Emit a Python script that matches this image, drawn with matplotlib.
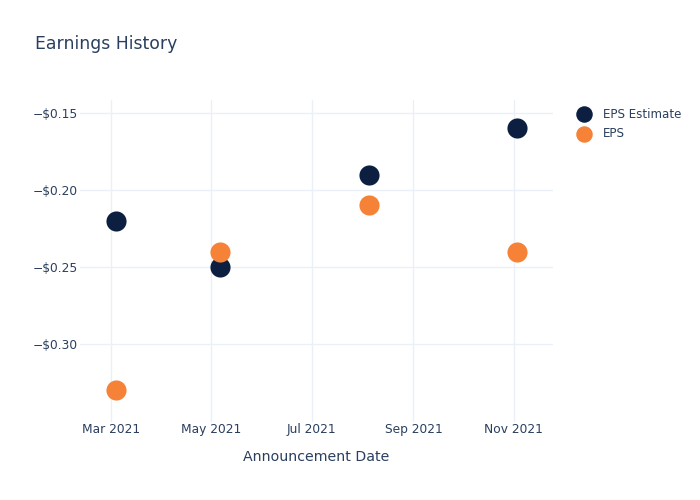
import pandas as pd
import matplotlib
matplotlib.use("Agg")
import matplotlib.pyplot as plt
import matplotlib.dates as mdates
from matplotlib.ticker import FuncFormatter

# data
dates = ["2021-03-04", "2021-05-06", "2021-08-05", "2021-11-03"]
eps_estimate = [-0.22, -0.25, -0.19, -0.16]
eps_actual = [-0.33, -0.24, -0.21, -0.24]

tick_dates = ["2021-03-01", "2021-05-01", "2021-07-01", "2021-09-01", "2021-11-01"]
y_ticks = [-0.30, -0.25, -0.20, -0.15]

text_color = "#2a3f5f"
grid_color = "#ebf0f8"
estimate_color = "#0d1f40"
eps_color = "#f58236"

x = pd.to_datetime(dates)

fig = plt.figure(figsize=(7, 5), dpi=100)
ax = fig.add_axes([80 / 700, 78 / 500, 473 / 700, 322 / 500])

ax.scatter(x, eps_estimate, s=210, color=estimate_color, label="EPS Estimate", zorder=3, linewidths=0)
ax.scatter(x, eps_actual, s=210, color=eps_color, label="EPS", zorder=3, linewidths=0)

ax.set_xlim(pd.Timestamp("2021-02-10"), pd.Timestamp("2021-11-25"))
ax.set_ylim(-0.3506, -0.1416)

ax.set_xticks(pd.to_datetime(tick_dates))
ax.xaxis.set_major_formatter(mdates.DateFormatter("%b %Y"))
ax.set_yticks(y_ticks)
ax.yaxis.set_major_formatter(FuncFormatter(lambda v, _: "\u2212$%.2f" % abs(v)))

ax.grid(True, color=grid_color, linewidth=1)
ax.set_axisbelow(True)
for spine in ax.spines.values():
    spine.set_visible(False)
ax.tick_params(length=0, labelsize=8.8, colors=text_color)
ax.tick_params(axis="x", pad=1)
ax.tick_params(axis="y", pad=1.5)

ax.set_xlabel("Announcement Date", fontsize=10.2, color=text_color, labelpad=10)
fig.text(35 / 700, 1 - 44 / 500, "Earnings History", fontsize=12.4, color=text_color, va="center", ha="left")

ax.legend(loc="upper left", bbox_to_anchor=(1.017, 1.01), frameon=False, fontsize=8.6,
          labelcolor=text_color, markerscale=0.82, handletextpad=0.6, labelspacing=0.55)

fig.savefig("out.png", dpi=100)
